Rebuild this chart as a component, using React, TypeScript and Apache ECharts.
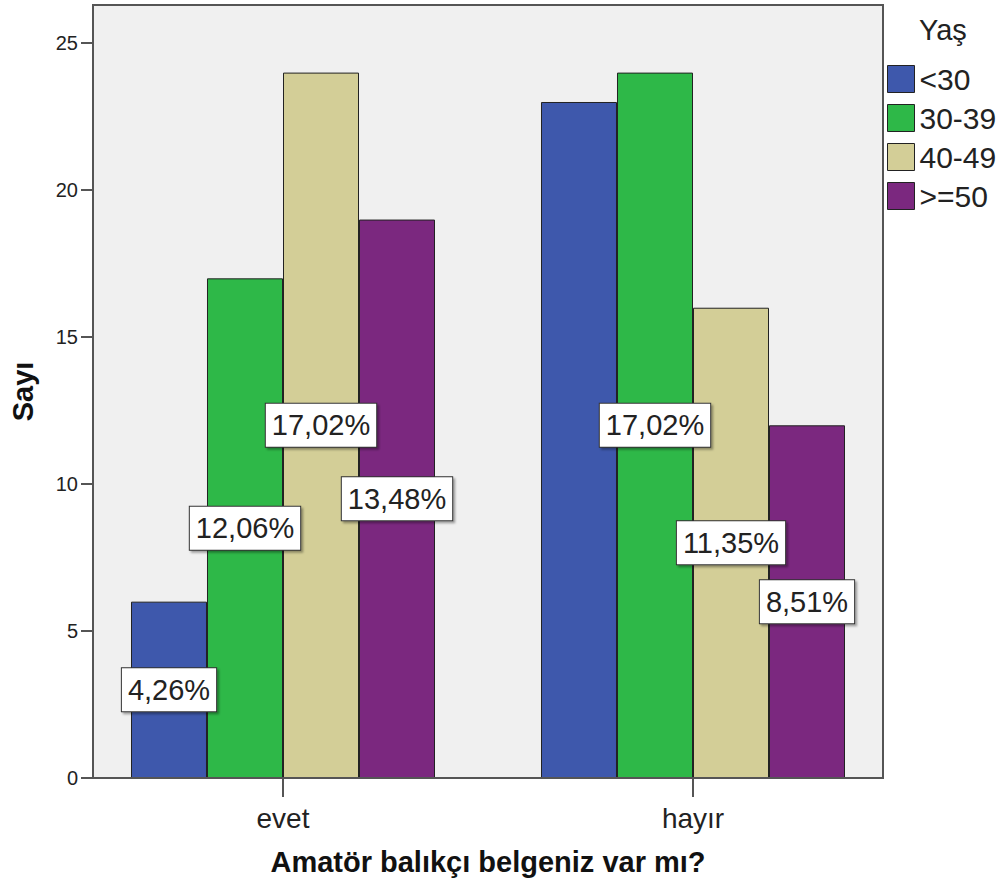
import React, { useEffect, useRef } from "react";
import * as echarts from "echarts";

const categories = ["evet", "hayır"];
const ageGroups = ["<30", "30-39", "40-49", ">=50"];
const under30 = [6, 23];
const age30to39 = [17, 24];
const age40to49 = [24, 16];
const age50plus = [19, 12];
const labelVisible = [
  [true, false],
  [true, true],
  [true, true],
  [true, true],
];
const yTicks = [0, 5, 10, 15, 20, 25];
const colors = ["#3e58ac", "#2eb848", "#d3ce97", "#7b287f"];

const FONT = "'Liberation Sans', Arial, sans-serif";

export default function App() {
  const ref = useRef<HTMLDivElement>(null);
  useEffect(() => {
    if (!ref.current) return;
    const chart = echarts.init(ref.current, undefined, { renderer: "svg" });
    const seriesData = [under30, age30to39, age40to49, age50plus];
    const total = seriesData.reduce((s, arr) => s + arr.reduce((a, b) => a + b, 0), 0);
    const fmt = (v: number) => ((v / total) * 100).toFixed(2).replace(".", ",") + "%";

    chart.setOption({
      animation: false,
      textStyle: { fontFamily: FONT },
      grid: { left: 78, right: 105, top: 5, bottom: 108, containLabel: false, outerBoundsMode: "none" },
      legend: {
        orient: "vertical",
        left: 887,
        top: 64,
        itemWidth: 27,
        itemHeight: 27,
        itemGap: 9,
        padding: 0,
        icon: "rect",
        data: ageGroups,
        textStyle: { fontSize: 30, color: "#222", fontFamily: FONT, lineHeight: 27 },
        itemStyle: { borderColor: "#222", borderWidth: 1 },
      },
      graphic: [
        {
          type: "rect",
          z: -10,
          silent: true,
          shape: { x: 93, y: 5, width: 790, height: 773 },
          style: { fill: "#f0f0f0" },
        },
        {
          type: "rect",
          z: 100,
          silent: true,
          shape: { x: 93, y: 5, width: 790, height: 773 },
          style: { fill: "none", stroke: "#555", lineWidth: 2 },
        },
        {
          type: "text",
          left: 919,
          top: 15,
          z: 100,
          style: { text: "Yaş", font: `29px ${FONT}`, fill: "#222" },
        },
      ],
      xAxis: {
        type: "category",
        data: categories,
        axisLine: { show: false },
        axisTick: { show: true, alignWithLabel: true, length: 19, lineStyle: { color: "#555", width: 2 } },
        axisLabel: { fontSize: 28, color: "#222", margin: 26, fontFamily: FONT },
        name: "Amatör balıkçı belgeniz var mı?",
        nameLocation: "middle",
        nameGap: 69,
        nameTextStyle: { fontSize: 29, fontWeight: "bold", color: "#111", fontFamily: FONT },
      },
      yAxis: {
        type: "value",
        min: 0,
        max: 26.3,
        interval: 5,
        offset: -15,
        splitLine: { show: false },
        axisLine: { show: true, lineStyle: { color: "#555", width: 2 } },
        axisTick: { show: true, length: 12, customValues: yTicks, lineStyle: { color: "#555", width: 2 } },
        axisLabel: { fontSize: 20, color: "#222", margin: 15, customValues: yTicks, fontFamily: FONT },
        name: "Sayı",
        nameLocation: "middle",
        nameGap: 56,
        nameTextStyle: { fontSize: 29, fontWeight: "bold", color: "#111", fontFamily: FONT },
      },
      series: ageGroups.map((g, i) => ({
        name: g,
        type: "bar",
        barGap: "0%",
        barCategoryGap: "25.85%",
        itemStyle: { color: colors[i], borderColor: "#222", borderWidth: 1 },
        data: seriesData[i].map((v, j) => ({
          value: v,
          label: {
            show: labelVisible[i][j],
            position: "inside",
            formatter: () => fmt(v),
            fontSize: 29,
            lineHeight: 31,
            color: "#222",
            fontFamily: FONT,
            backgroundColor: "#fff",
            borderColor: "#333",
            borderWidth: 1,
            padding: [6, 6, 6, 6],
            shadowColor: "rgba(0,0,0,0.35)",
            shadowOffsetX: 2,
            shadowOffsetY: 2,
            shadowBlur: 2,
          },
        })),
        z: 2,
      })),
    });
    return () => chart.dispose();
  }, []);
  return (
    <div
      ref={ref}
      style={{ position: "absolute", left: 0, top: 0, width: 1003, height: 886 }}
    />
  );
}
